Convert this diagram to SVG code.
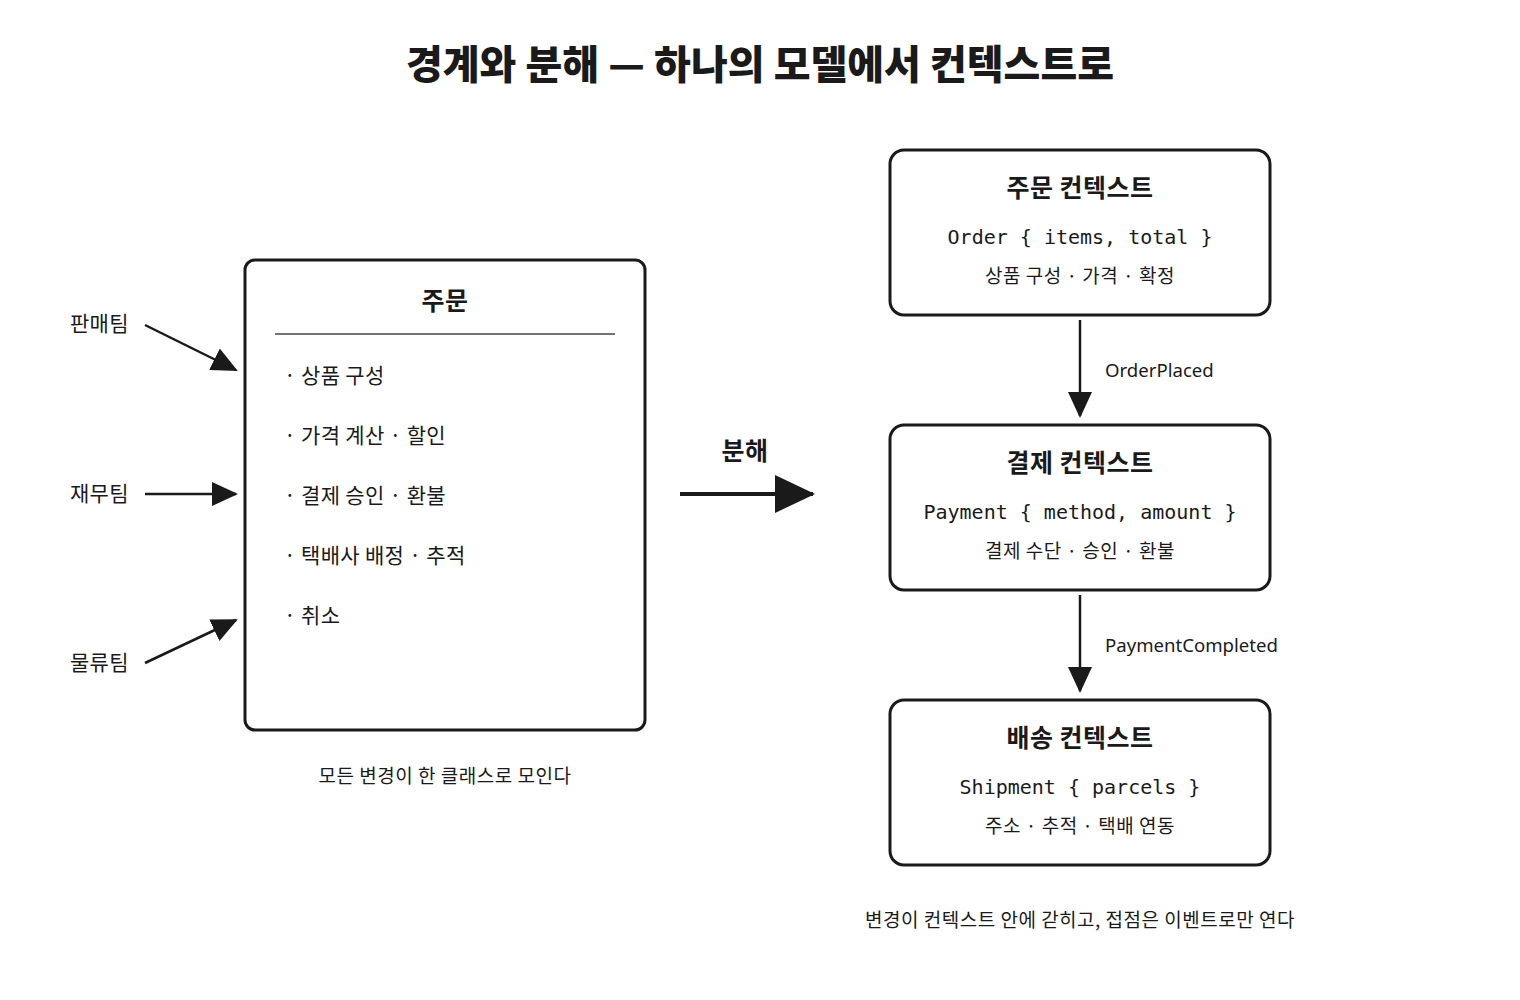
<svg xmlns="http://www.w3.org/2000/svg" width="1520" height="1000" viewBox="0 0 1520 1000">
<defs>
<style>
.kr{font-family:"Noto Sans CJK KR","Noto Sans",sans-serif;fill:#1a1a1a}
.title{font-size:40px;font-weight:900}
.h{font-size:25px;font-weight:700;letter-spacing:0.5px}
.item{font-size:21px;letter-spacing:0.3px}
.small{font-size:19px;letter-spacing:0.5px}
.lbl{font-family:"Noto Sans","Noto Sans CJK KR",sans-serif;font-size:18.6px;fill:#1a1a1a}
.code{font-family:"DejaVu Sans Mono","Liberation Mono",monospace;font-size:20px;fill:#1a1a1a}
.box{fill:#fff;stroke:#1a1a1a;stroke-width:3}
.conn{stroke:#1a1a1a;stroke-width:2.5;fill:none}
</style>
<marker id="ah" markerUnits="userSpaceOnUse" markerWidth="26" markerHeight="26" viewBox="0 0 26 26" refX="24" refY="13" orient="auto">
<path d="M0,1 L26,13 L0,25 Z" fill="#1a1a1a"/>
</marker>
<marker id="ahBig" markerUnits="userSpaceOnUse" markerWidth="40" markerHeight="40" viewBox="0 0 40 40" refX="38" refY="20" orient="auto">
<path d="M0,1 L40,20 L0,39 Z" fill="#1a1a1a"/>
</marker>
</defs>
<rect width="1520" height="1000" fill="#fff"/>
<text class="kr title" x="760" y="79" text-anchor="middle">경계와 분해 — 하나의 모델에서 컨텍스트로</text>

<g id="monolith">
<rect class="box" x="245" y="260" width="400" height="470" rx="10"/>
<text class="kr h" x="445" y="310" text-anchor="middle">주문</text>
<line x1="275" y1="334" x2="615" y2="334" stroke="#444" stroke-width="1.5"/>
<text class="kr item" x="284" y="383">· 상품 구성</text>
<text class="kr item" x="284" y="443">· 가격 계산 · 할인</text>
<text class="kr item" x="284" y="503">· 결제 승인 · 환불</text>
<text class="kr item" x="284" y="563">· 택배사 배정 · 추적</text>
<text class="kr item" x="284" y="623">· 취소</text>
</g>
<text class="kr small" x="445" y="783" text-anchor="middle">모든 변경이 한 클래스로 모인다</text>

<g id="team-sales"><text class="kr item" x="70" y="331">판매팀</text></g>
<g id="team-finance"><text class="kr item" x="70" y="501">재무팀</text></g>
<g id="team-logistics"><text class="kr item" x="70" y="670">물류팀</text></g>

<g id="ctx-order">
<rect class="box" x="890" y="150" width="380" height="165" rx="14"/>
<text class="kr h" x="1080" y="197" text-anchor="middle">주문 컨텍스트</text>
<text class="code" x="1080" y="244" text-anchor="middle">Order { items, total }</text>
<text class="kr small" x="1080" y="283" text-anchor="middle">상품 구성 · 가격 · 확정</text>
</g>
<g id="ctx-payment">
<rect class="box" x="890" y="425" width="380" height="165" rx="14"/>
<text class="kr h" x="1080" y="472" text-anchor="middle">결제 컨텍스트</text>
<text class="code" x="1080" y="519" text-anchor="middle">Payment { method, amount }</text>
<text class="kr small" x="1080" y="558" text-anchor="middle">결제 수단 · 승인 · 환불</text>
</g>
<g id="ctx-shipping">
<rect class="box" x="890" y="700" width="380" height="165" rx="14"/>
<text class="kr h" x="1080" y="747" text-anchor="middle">배송 컨텍스트</text>
<text class="code" x="1080" y="794" text-anchor="middle">Shipment { parcels }</text>
<text class="kr small" x="1080" y="833" text-anchor="middle">주소 · 추적 · 택배 연동</text>
</g>
<text class="kr small" x="1080" y="927" text-anchor="middle">변경이 컨텍스트 안에 갇히고, 접점은 이벤트로만 연다</text>

<g id="connectors">
<line class="conn" x1="145" y1="325" x2="236" y2="370" marker-end="url(#ah)"/>
<line class="conn" x1="145" y1="494" x2="236" y2="494" marker-end="url(#ah)"/>
<line class="conn" x1="145" y1="663" x2="236" y2="620" marker-end="url(#ah)"/>
<line x1="680" y1="494" x2="813" y2="494" stroke="#1a1a1a" stroke-width="4" marker-end="url(#ahBig)"/>
<text class="kr h" x="745" y="460" text-anchor="middle">분해</text>
<line class="conn" x1="1080" y1="320" x2="1080" y2="416" marker-end="url(#ah)"/>
<text class="lbl" x="1105" y="377">OrderPlaced</text>
<line class="conn" x1="1080" y1="595" x2="1080" y2="691" marker-end="url(#ah)"/>
<text class="lbl" x="1105" y="652">PaymentCompleted</text>
</g>
</svg>
